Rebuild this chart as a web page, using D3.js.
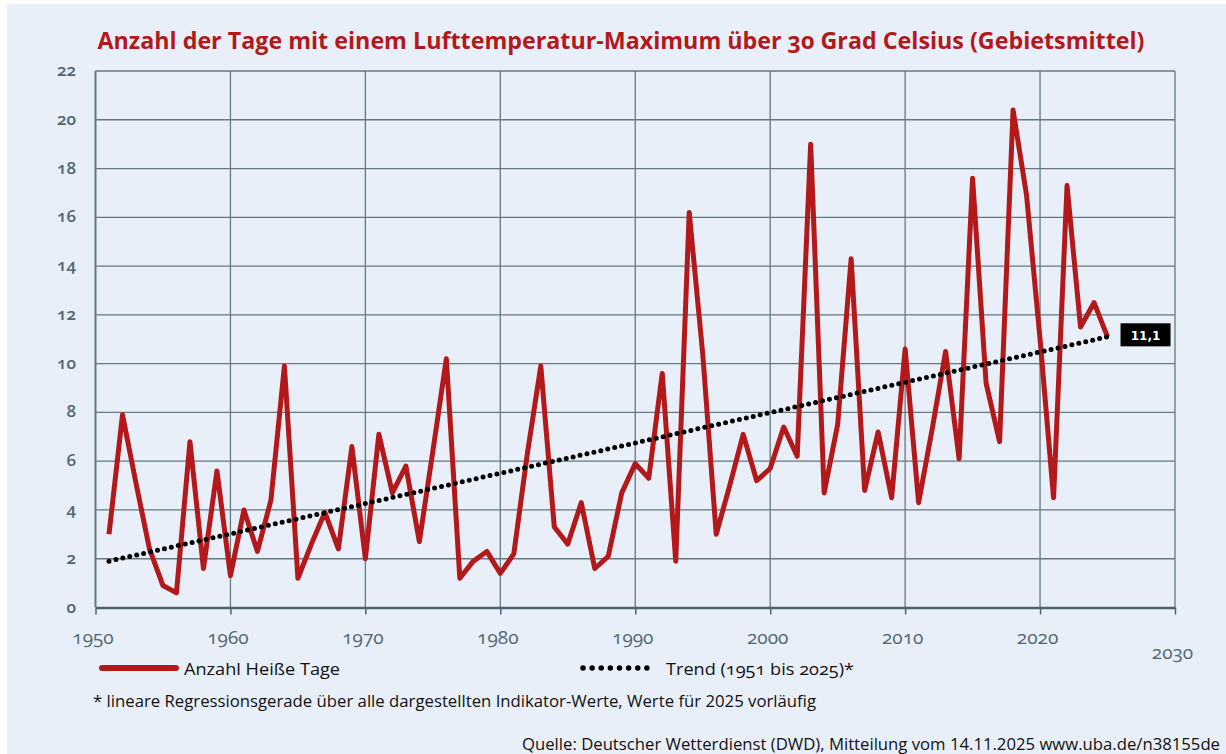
<!DOCTYPE html>
<html>
<head>
<meta charset="utf-8">
<script src="https://cdn.jsdelivr.net/npm/d3@7"></script>
<style>
  body { margin: 0; background: #fff; }
  svg { display: block; font-family: "Open Sans", "Noto Sans", sans-serif; }
  .num { font-variant-numeric: oldstyle-nums; }
</style>
</head>
<body>
<script>
// Heiße Tage (Gebietsmittel Deutschland)
const years = d3.range(1951, 2026);
const hotDays = [
  3.0, 7.9, 5.1, 2.4, 0.9, 0.6, 6.8, 1.6, 5.6, 1.3,
  4.0, 2.3, 4.4, 9.9, 1.2, 2.6, 3.9, 2.4, 6.6, 2.0,
  7.1, 4.7, 5.8, 2.7, 6.4, 10.2, 1.2, 1.9, 2.3, 1.4,
  2.2, 6.3, 9.9, 3.3, 2.6, 4.3, 1.6, 2.1, 4.7, 5.9,
  5.3, 9.6, 1.9, 16.2, 10.4, 3.0, 5.0, 7.1, 5.2, 5.7,
  7.4, 6.2, 19.0, 4.7, 7.5, 14.3, 4.8, 7.2, 4.5, 10.6,
  4.3, 7.3, 10.5, 6.1, 17.6, 9.2, 6.8, 20.4, 16.9, 11.0,
  4.5, 17.3, 11.5, 12.5, 11.1
];
const trendYears = [1951, 2025];
const trendValues = [1.9, 11.1];
const trendLabel = "11,1";

const xTicks = [1950, 1960, 1970, 1980, 1990, 2000, 2010, 2020, 2030];
const yTicks = [0, 2, 4, 6, 8, 10, 12, 14, 16, 18, 20, 22];

const width = 1226;
const height = 754;
const margin = { top: 71, right: 51, bottom: 146.5, left: 95.5 };

const red = "#b3191b";
const gridColor = "#66797f";
const labelColor = "#526670";

const svg = d3.select("body").append("svg")
  .attr("width", width)
  .attr("height", height);

// background panel
svg.append("rect")
  .attr("x", 7).attr("y", 4)
  .attr("width", width - 7).attr("height", height - 4)
  .attr("fill", "#e8eff8");

const x = d3.scaleLinear().domain([1950, 2030]).range([margin.left, width - margin.right]);
const y = d3.scaleLinear().domain([0, 22]).range([height - margin.bottom, margin.top]);

// title
svg.append("text")
  .attr("class", "num")
  .attr("x", 621).attr("y", 49)
  .attr("text-anchor", "middle")
  .attr("fill", red)
  .attr("font-size", 24)
  .attr("font-weight", 700)
  .attr("textLength", 1047)
  .attr("lengthAdjust", "spacingAndGlyphs")
  .text("Anzahl der Tage mit einem Lufttemperatur-Maximum über 30 Grad Celsius (Gebietsmittel)");

// grid
const grid = svg.append("g");
grid.selectAll(".hgrid")
  .data(yTicks.filter(d => d > 0))
  .join("line")
  .attr("x1", x(1950)).attr("x2", x(2030))
  .attr("y1", d => y(d)).attr("y2", d => y(d))
  .attr("stroke", gridColor)
  .attr("stroke-width", 1.3);
grid.selectAll(".vgrid")
  .data(xTicks)
  .join("line")
  .attr("x1", d => x(d)).attr("x2", d => x(d))
  .attr("y1", y(22)).attr("y2", y(0))
  .attr("stroke", gridColor)
  .attr("stroke-width", d => (d === 1950 ? 2 : 1.3));

// x axis
const xAxis = d3.axisBottom(x)
  .tickValues(xTicks)
  .tickSize(7)
  .tickSizeOuter(0)
  .tickFormat(d3.format("d"));
const gx = svg.append("g")
  .attr("transform", `translate(0,${y(0)})`)
  .call(xAxis)
  .attr("font-size", 19)
  .attr("font-family", null);
gx.select(".domain").attr("stroke", "#4e626c").attr("stroke-width", 2.5);
gx.selectAll(".tick line").attr("stroke", "#4e626c").attr("stroke-width", 1.5);
gx.selectAll(".tick text")
  .attr("class", "num")
  .attr("fill", labelColor)
  .attr("dx", -3)
  .attr("y", d => (d === 2030 ? 38 : 23));

// y axis labels
svg.append("g")
  .selectAll("text")
  .data(yTicks)
  .join("text")
  .attr("class", "num")
  .attr("x", 76)
  .attr("y", d => y(d) + 5)
  .attr("text-anchor", "end")
  .attr("fill", labelColor)
  .attr("font-size", 17)
  .attr("font-weight", 600)
  .text(d => d);

// data line
const line = d3.line()
  .x((d, i) => x(years[i]))
  .y(d => y(d));
svg.append("path")
  .datum(hotDays)
  .attr("fill", "none")
  .attr("stroke", red)
  .attr("stroke-width", 5)
  .attr("stroke-linejoin", "round")
  .attr("d", line);

// trend
svg.append("line")
  .attr("x1", x(trendYears[0])).attr("y1", y(trendValues[0]))
  .attr("x2", x(trendYears[1])).attr("y2", y(trendValues[1]))
  .attr("stroke", "#000")
  .attr("stroke-width", 5)
  .attr("stroke-linecap", "round")
  .attr("stroke-dasharray", "0 7.1");

// end label
const lx = x(trendYears[1]) + 13;
const ly = y(trendValues[1]);
svg.append("rect")
  .attr("x", lx).attr("y", ly - 13.5)
  .attr("width", 50).attr("height", 23)
  .attr("fill", "#000");
svg.append("text")
  .attr("x", lx + 25).attr("y", ly + 3)
  .attr("text-anchor", "middle")
  .attr("fill", "#fff")
  .attr("font-size", 12)
  .attr("font-weight", 700)
  .attr("font-family", "DejaVu Sans")
  .text(trendLabel);

// legend
const legend = svg.append("g");
legend.append("line")
  .attr("x1", 102).attr("x2", 176)
  .attr("y1", 668).attr("y2", 668)
  .attr("stroke", red)
  .attr("stroke-width", 6)
  .attr("stroke-linecap", "round");
legend.append("text")
  .attr("x", 184).attr("y", 675)
  .attr("font-size", 17)
  .attr("fill", "#111")
  .attr("textLength", 156)
  .attr("lengthAdjust", "spacingAndGlyphs")
  .text("Anzahl Heiße Tage");
legend.append("line")
  .attr("x1", 583).attr("x2", 656)
  .attr("y1", 668).attr("y2", 668)
  .attr("stroke", "#000")
  .attr("stroke-width", 5.5)
  .attr("stroke-linecap", "round")
  .attr("stroke-dasharray", "0 9.125");
legend.append("text")
  .attr("class", "num")
  .attr("x", 666).attr("y", 675)
  .attr("font-size", 17)
  .attr("fill", "#111")
  .attr("textLength", 188)
  .attr("lengthAdjust", "spacingAndGlyphs")
  .text("Trend (1951 bis 2025)*");

// notes
svg.append("text")
  .attr("x", 93).attr("y", 707)
  .attr("font-size", 16)
  .attr("fill", "#111")
  .attr("textLength", 723)
  .attr("lengthAdjust", "spacingAndGlyphs")
  .text("* lineare Regressionsgerade über alle dargestellten Indikator-Werte, Werte für 2025 vorläufig");
svg.append("text")
  .attr("x", 1220).attr("y", 750)
  .attr("text-anchor", "end")
  .attr("font-size", 16)
  .attr("fill", "#111")
  .attr("textLength", 698)
  .attr("lengthAdjust", "spacingAndGlyphs")
  .text("Quelle: Deutscher Wetterdienst (DWD), Mitteilung vom 14.11.2025 www.uba.de/n38155de");
</script>
</body>
</html>
